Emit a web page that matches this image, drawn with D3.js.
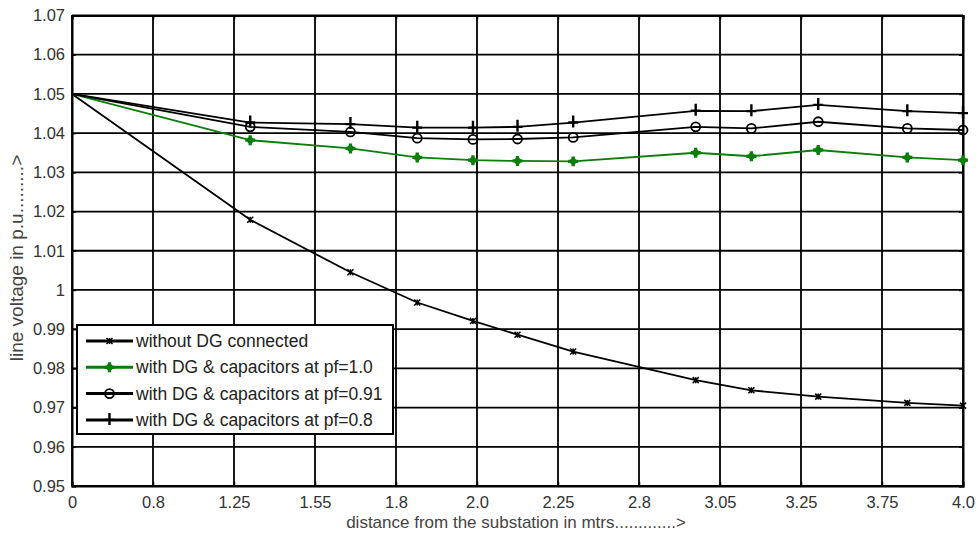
<!DOCTYPE html>
<html>
<head>
<meta charset="utf-8">
<script src="https://cdn.jsdelivr.net/npm/d3@7"></script>
<style>
  body { margin: 0; background: #fff; }
  text { font-family: "Liberation Sans", Arial, sans-serif; }
</style>
</head>
<body>
<svg id="svg"></svg>
<script>
    var w = 979;
    var h = 535;

    // distances (in the plot's own 0..4 units) and tick labels as printed
    var dist = [0, 0.8, 1.25, 1.55, 1.8, 2.0, 2.25, 2.8, 3.05, 3.35, 3.75, 4.0];
    var xTickLabels = ["0", "0.8", "1.25", "1.55", "1.8", "2.0", "2.25", "2.8", "3.05", "3.25", "3.75", "4.0"];
    var yTicks = [0.95, 0.96, 0.97, 0.98, 0.99, 1, 1.01, 1.02, 1.03, 1.04, 1.05, 1.06, 1.07];

    var noDG = [1.05, 1.0179, 1.0045, 0.9968, 0.9921, 0.9886, 0.9843, 0.9770, 0.9744, 0.9728, 0.9712, 0.9705];
    var pf10 = [1.05, 1.0382, 1.0361, 1.0338, 1.0331, 1.0329, 1.0328, 1.0350, 1.0341, 1.0357, 1.0338, 1.0331];
    var pf091 = [1.05, 1.0416, 1.0403, 1.0387, 1.0384, 1.0385, 1.0389, 1.0416, 1.0412, 1.0429, 1.0412, 1.0408];
    var pf08 = [1.05, 1.0427, 1.0423, 1.0414, 1.0414, 1.0416, 1.0427, 1.0457, 1.0456, 1.0472, 1.0456, 1.0451];

    var seriesNames = ["without DG connected", "with DG & capacitors at pf=1.0",
                       "with DG & capacitors at pf=0.91", "with DG & capacitors at pf=0.8"];

    var series = [
        {name: seriesNames[0], values: noDG, color: "#000", marker: "x"},
        {name: seriesNames[1], values: pf10, color: "#0a7d0a", marker: "star"},
        {name: seriesNames[2], values: pf091, color: "#000", marker: "o"},
        {name: seriesNames[3], values: pf08, color: "#000", marker: "+"}
    ];

    var pLeft = 72, pRight = 963, pTop = 15.5, pBottom = 486;

    var x = d3.scaleLinear().domain([0, 4]).range([pLeft, pRight]);
    var y = d3.scaleLinear().domain([0.95, 1.07]).range([pBottom, pTop]);

    var xTickVals = xTickLabels.map(function(d, i) { return i * 4 / (xTickLabels.length - 1) });

    svg = d3.select("#svg")
            .attr("width", w)
            .attr("height", h)
    svg.append("rect")
        .attr("width", w)
        .attr("height", h)
        .attr("fill", "#fff")

    // grid
    var grid = svg.append("g").attr("class", "grid")
    grid.selectAll("line.v")
        .data(xTickVals)
        .enter().append("line")
        .attr("x1", function(d) { return x(d) })
        .attr("x2", function(d) { return x(d) })
        .attr("y1", pTop)
        .attr("y2", pBottom)
        .attr("stroke", "#000")
        .attr("stroke-width", 1.8)
    grid.selectAll("line.h")
        .data(yTicks)
        .enter().append("line")
        .attr("x1", pLeft)
        .attr("x2", pRight)
        .attr("y1", function(d) { return y(d) })
        .attr("y2", function(d) { return y(d) })
        .attr("stroke", "#000")
        .attr("stroke-width", 1.8)

    // axes with inward ticks
    var xAxis = d3.axisBottom(x).tickValues(xTickVals)
        .tickFormat(function(d, i) { return xTickLabels[i] })
        .tickSize(-4).tickPadding(10)
    var yAxis = d3.axisLeft(y).tickValues(yTicks)
        .tickFormat(function(d) { return d == 1 ? "1" : d3.format(".2f")(d) })
        .tickSize(-4).tickPadding(7)

    var gx = svg.append("g").attr("transform", "translate(0," + pBottom + ")").call(xAxis)
    var gy = svg.append("g").attr("transform", "translate(" + pLeft + ",0)").call(yAxis)
    svg.append("g").attr("transform", "translate(0," + pTop + ")")
        .call(d3.axisTop(x).tickValues(xTickVals).tickFormat("").tickSize(-4))
    svg.append("g").attr("transform", "translate(" + pRight + ",0)")
        .call(d3.axisRight(y).tickValues(yTicks).tickFormat("").tickSize(-4))

    svg.selectAll(".domain").attr("stroke", "#000").attr("stroke-width", 2)
    svg.selectAll(".tick line").attr("stroke", "#000").attr("stroke-width", 1.5)
    svg.selectAll(".tick text")
        .style("font-size", "16.5px")
        .style("fill", "#333")
        .style("font-family", "'Liberation Sans', Arial, sans-serif")

    // data lines
    var line = d3.line()
        .x(function(d, i) { return x(dist[i]) })
        .y(function(d) { return y(d) })

    var drawMarker = function(g, type, color) {
        if (type == "x") {
            g.append("path").attr("d", "M-3,-3L3,3M-3,3L3,-3M0,-3L0,3")
                .attr("stroke", color).attr("stroke-width", 1.5).attr("fill", "none")
        } else if (type == "star") {
            g.append("path").attr("d", d3.symbol(d3.symbolCross, 55)())
                .attr("fill", color)
            g.append("circle").attr("r", 3.2).attr("fill", color)
        } else if (type == "o") {
            g.append("circle").attr("r", 4.5)
                .attr("stroke", color).attr("stroke-width", 1.8).attr("fill", "none")
        } else {
            g.append("path").attr("d", "M-5,0L5,0M0,-7L0,5")
                .attr("stroke", color).attr("stroke-width", 2.4).attr("fill", "none")
        }
    }

    series.forEach(function(s) {
        svg.append("path")
            .datum(s.values)
            .attr("d", line)
            .attr("fill", "none")
            .attr("stroke", s.color)
            .attr("stroke-width", 1.8)
        s.values.forEach(function(v, i) {
            if (i == 0) return;
            var g = svg.append("g").attr("transform", "translate(" + [x(dist[i]), y(v)] + ")")
            drawMarker(g, s.marker, s.color)
        })
    })

    // legend
    var lg = svg.append("g").attr("transform", "translate(77,325)")
    lg.append("rect")
        .attr("width", 316)
        .attr("height", 109)
        .attr("fill", "#fff")
        .attr("stroke", "#000")
        .attr("stroke-width", 2)
    series.forEach(function(s, i) {
        var yy = 16 + i * 26.3
        lg.append("line")
            .attr("x1", 9).attr("x2", 56)
            .attr("y1", yy).attr("y2", yy)
            .attr("stroke", s.color).attr("stroke-width", 3)
        var m = lg.append("g").attr("transform", "translate(" + [32.5, yy] + ")")
        drawMarker(m, s.marker, s.color)
        lg.append("text")
            .attr("x", 59)
            .attr("y", yy + 6)
            .attr("font-size", 17.5)
            .attr("fill", "#222")
            .text(s.name)
    })

    // axis titles
    svg.append("text")
        .attr("x", 516)
        .attr("y", 528)
        .attr("text-anchor", "middle")
        .attr("font-size", 17)
        .attr("fill", "#444")
        .text("distance from the substation in mtrs.............>")
    svg.append("text")
        .attr("transform", "translate(23,258)rotate(-90)")
        .attr("text-anchor", "middle")
        .attr("font-size", 19)
        .attr("fill", "#444")
        .text("line voltage in p.u.........>")
</script>
</body>
</html>
